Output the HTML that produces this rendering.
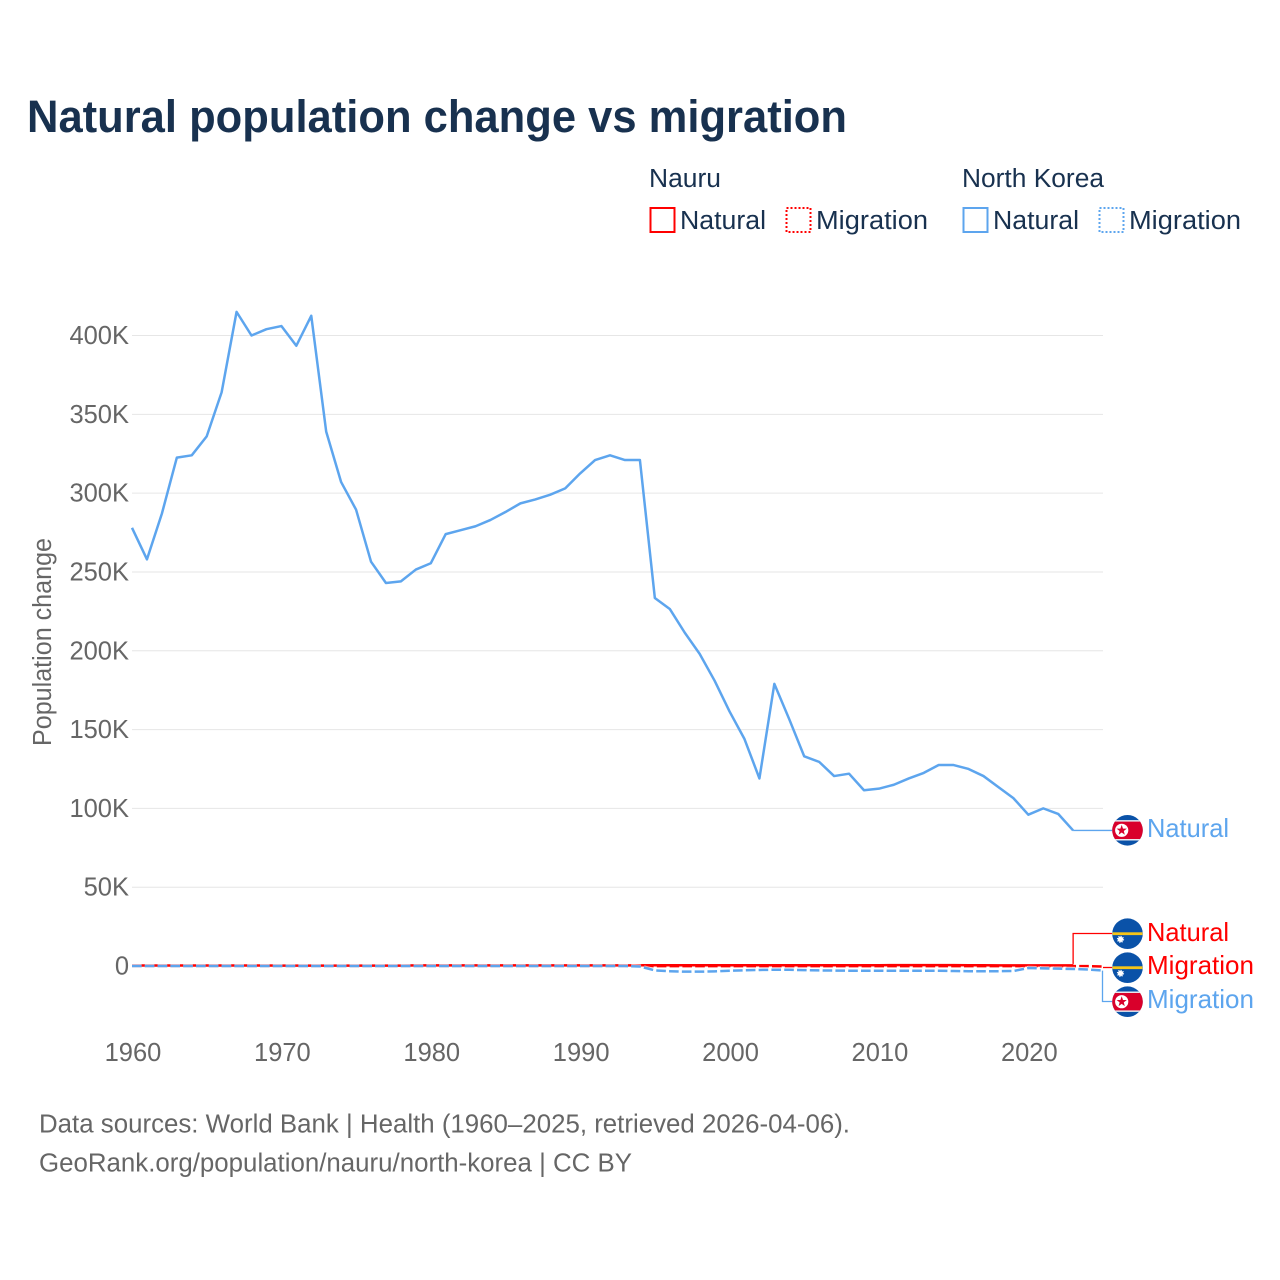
<!DOCTYPE html>
<html lang="en">
<head>
<meta charset="utf-8">
<title>Natural population change vs migration</title>
<style>
html,body{margin:0;padding:0;background:#fff;width:1280px;height:1280px;overflow:hidden}
svg{display:block}
text{font-family:"Liberation Sans",sans-serif}
.tick{font-size:25.5px;fill:#666}
.legend{font-size:25.5px;fill:#18314f}
.src{font-size:25.5px;fill:#666}
.end{font-size:26px}
</style>
</head>
<body>
<svg id="chart" xmlns="http://www.w3.org/2000/svg" width="1280" height="1280" viewBox="0 0 1280 1280">
  <rect width="1280" height="1280" fill="#fff"/>
  <text x="27" y="132" font-size="45" font-weight="700" fill="#18314f" textLength="820" lengthAdjust="spacingAndGlyphs">Natural population change vs migration</text>

  <g>
    <text class="legend" x="649" y="187" textLength="72" lengthAdjust="spacingAndGlyphs">Nauru</text>
    <text class="legend" x="962" y="187" textLength="142" lengthAdjust="spacingAndGlyphs">North Korea</text>
    <g>
      <rect x="650.5" y="208" width="24" height="24" fill="none" stroke="#ff0000" stroke-width="2"/>
      <text class="legend" x="680" y="229" textLength="86" lengthAdjust="spacingAndGlyphs">Natural</text>
    </g>
    <g>
      <rect x="786.5" y="208" width="24" height="24" fill="none" stroke="#ff0000" stroke-width="2" stroke-dasharray="2 2"/>
      <text class="legend" x="816" y="229" textLength="112" lengthAdjust="spacingAndGlyphs">Migration</text>
    </g>
    <g>
      <rect x="963.5" y="208" width="24" height="24" fill="none" stroke="#5da5ee" stroke-width="2"/>
      <text class="legend" x="993" y="229" textLength="86" lengthAdjust="spacingAndGlyphs">Natural</text>
    </g>
    <g>
      <rect x="1099.5" y="208" width="24" height="24" fill="none" stroke="#5da5ee" stroke-width="2" stroke-dasharray="2 2"/>
      <text class="legend" x="1129" y="229" textLength="112" lengthAdjust="spacingAndGlyphs">Migration</text>
    </g>
  </g>

  <text class="tick" transform="translate(51,642) rotate(-90)" text-anchor="middle" textLength="208" lengthAdjust="spacingAndGlyphs">Population change</text>

  <g id="grid"></g>
  <g id="yticks"></g>
  <g id="xticks"></g>
  <g id="connectors"></g>
  <g id="series"></g>

  <g>
    <g transform="translate(1127.5,830.3)">
      <circle r="15.3" fill="#0a52a8"/>
      <clipPath id="c1"><circle r="15.3"/></clipPath>
      <g clip-path="url(#c1)">
        <rect x="-16" y="-10.2" width="32" height="20.4" fill="#e8e8ee"/>
        <rect x="-16" y="-8.7" width="32" height="17.4" fill="#d9002b"/>
      </g>
      <circle cx="-5.8" r="6.6" fill="#fff"/>
      <polygon points="-5.8,-5.4 -4.5,-1.7 -0.7,-1.7 -3.7,0.7 -2.7,4.4 -5.8,2.2 -8.9,4.4 -7.9,0.7 -10.9,-1.7 -7.1,-1.7" fill="#d9002b"/>
    </g>
    <text class="end" x="1147" y="837" fill="#5da5ee" textLength="82" lengthAdjust="spacingAndGlyphs">Natural</text>
  </g>
  <g>
    <g transform="translate(1127.5,933.7)">
      <circle r="15.3" fill="#0a52a8"/>
      <rect x="-15" y="-1.4" width="30" height="2.8" fill="#f5c518"/>
      <circle cx="-7" cy="5.6" r="2.6" fill="#fff" stroke="#fff" stroke-width="2" stroke-dasharray="1 1"/>
    </g>
    <text class="end" x="1147" y="941" fill="#ff0000" textLength="82" lengthAdjust="spacingAndGlyphs">Natural</text>
  </g>
  <g>
    <g transform="translate(1127.5,967.7)">
      <circle r="15.3" fill="#0a52a8"/>
      <rect x="-15" y="-1.4" width="30" height="2.8" fill="#f5c518"/>
      <circle cx="-7" cy="5.6" r="2.6" fill="#fff" stroke="#fff" stroke-width="2" stroke-dasharray="1 1"/>
    </g>
    <text class="end" x="1147" y="974" fill="#ff0000" textLength="107" lengthAdjust="spacingAndGlyphs">Migration</text>
  </g>
  <g>
    <g transform="translate(1127.5,1001.7)">
      <circle r="15.3" fill="#0a52a8"/>
      <clipPath id="c2"><circle r="15.3"/></clipPath>
      <g clip-path="url(#c2)">
        <rect x="-16" y="-10.2" width="32" height="20.4" fill="#e8e8ee"/>
        <rect x="-16" y="-8.7" width="32" height="17.4" fill="#d9002b"/>
      </g>
      <circle cx="-5.8" r="6.6" fill="#fff"/>
      <polygon points="-5.8,-5.4 -4.5,-1.7 -0.7,-1.7 -3.7,0.7 -2.7,4.4 -5.8,2.2 -8.9,4.4 -7.9,0.7 -10.9,-1.7 -7.1,-1.7" fill="#d9002b"/>
    </g>
    <text class="end" x="1147" y="1008" fill="#5da5ee" textLength="107" lengthAdjust="spacingAndGlyphs">Migration</text>
  </g>

  <text class="src" x="39" y="1132.5" textLength="811" lengthAdjust="spacingAndGlyphs">Data sources: World Bank | Health (1960–2025, retrieved 2026-04-06).</text>
  <text class="src" x="39" y="1171.5" textLength="593" lengthAdjust="spacingAndGlyphs">GeoRank.org/population/nauru/north-korea | CC BY</text>
</svg>
<script>
const yearTicks = [1960, 1970, 1980, 1990, 2000, 2010, 2020];
const valueTicks = [0, 50000, 100000, 150000, 200000, 250000, 300000, 350000, 400000];
const valueTickLabels = ["0", "50K", "100K", "150K", "200K", "250K", "300K", "350K", "400K"];
const firstYear = 1960;
const koreaNatural = [278000,258000,287000,322500,324000,336000,364000,415000,400000,404000,406000,393500,412500,339000,307000,289500,256500,243000,244000,251500,255500,274000,276500,279000,283000,288000,293500,296000,299000,303000,312500,321000,324000,321000,321000,233500,226500,211500,198000,181000,161500,144000,119000,179000,156500,133000,129500,120500,122000,111500,112500,115000,119000,122500,127500,127500,125000,120500,113500,106500,96000,100000,96500,86000];
const koreaMigration = [0,0,0,0,0,0,0,0,0,0,0,0,0,0,0,0,0,0,0,0,0,0,0,0,0,0,0,0,0,0,0,0,0,0,-300,-2800,-3300,-3600,-3600,-3400,-3000,-2700,-2500,-2400,-2400,-2600,-2800,-2900,-3000,-3000,-3000,-3000,-3000,-3000,-3000,-3200,-3300,-3300,-3300,-3200,-1300,-1500,-1700,-1900,-2200,-2900];
const nauruNatural = [300,300,310,320,320,330,330,340,350,300,250,200,200,200,210,220,220,230,240,360,370,380,380,390,390,400,410,410,420,420,430,430,430,430,440,450,450,450,450,460,460,460,470,470,470,470,480,480,480,500,510,520,520,520,520,520,510,500,420,400,420,430,430,430];
const nauruMigration = [0,0,0,0,0,0,0,0,0,0,0,0,0,0,0,0,0,0,0,0,0,0,0,0,0,0,0,0,0,0,0,0,0,0,-50,-50,-50,-50,-50,-50,-50,-50,-50,-50,-50,-50,-50,-50,-50,-50,-50,-50,-50,-50,-50,-50,-50,-50,-50,-50,-50,-50,-50,-50,-100,-300];
const gridTop = 132;
const SVGNS = "http://www.w3.org/2000/svg";
function xScale(year) { return gridTop + (year - firstYear) * (1103 - 132) / 65; }
function yScale(value) { return 966 - value * (966 - 335.5) / 400000; }
function linePoints(values) {
  return values.map(function (v, i) { return xScale(firstYear + i).toFixed(2) + "," + yScale(v).toFixed(2); }).join(" ");
}
const gridG = document.getElementById("grid");
const yG = document.getElementById("yticks");
const xG = document.getElementById("xticks");
const seriesG = document.getElementById("series");
const connG = document.getElementById("connectors");

valueTicks.forEach(function (v, i) {
  if (v !== 0) {
    const g = document.createElementNS(SVGNS, "line");
    
    
    g.setAttribute("x1", xScale(1960));
    g.setAttribute("x2", xScale(2025));
    g.setAttribute("y1", yScale(v));
    g.setAttribute("y2", yScale(v));
    g.setAttribute("stroke", "#e6e6e6");
    g.setAttribute("stroke-width", "1");
    gridG.appendChild(g);
  }
  const t = document.createElementNS(SVGNS, "text");
  
  
  t.setAttribute("class", "tick");
  t.setAttribute("x", "129");
  t.setAttribute("y", yScale(v) + 8.5);
  t.setAttribute("text-anchor", "end");
  t.textContent = valueTickLabels[i];
  yG.appendChild(t);
});

yearTicks.forEach(function (yr) {
  const t = document.createElementNS(SVGNS, "text");
  
  
  t.setAttribute("class", "tick");
  t.setAttribute("x", xScale(yr) + 1);
  t.setAttribute("y", "1061");
  t.setAttribute("text-anchor", "middle");
  t.textContent = String(yr);
  xG.appendChild(t);
});

function addConnector(name, d, color) {
  const p = document.createElementNS(SVGNS, "path");
  
  
  p.setAttribute("d", d);
  p.setAttribute("fill", "none");
  p.setAttribute("stroke", color);
  p.setAttribute("stroke-width", "1.3");
  connG.appendChild(p);
}
const lastNatural = firstYear + koreaNatural.length - 1;
const lastMigration = firstYear + koreaMigration.length - 1;
addConnector("connector-north-korea-natural", "M" + xScale(lastNatural) + " " + yScale(koreaNatural[koreaNatural.length - 1]) + "H1112", "#5da5ee");
addConnector("connector-nauru-natural", "M" + xScale(lastNatural) + " " + yScale(nauruNatural[nauruNatural.length - 1]) + "V933.5H1112", "#ff0000");
addConnector("connector-nauru-migration", "M" + xScale(lastMigration) + " 967.5H1112", "#ff0000");
addConnector("connector-north-korea-migration", "M1102.5 " + yScale(koreaMigration[koreaMigration.length - 1]) + "V1001.5H1112", "#5da5ee");

function addLine(name, values, color, dashed) {
  if (dashed) {
    const h = document.createElementNS(SVGNS, "polyline");
    
    
    h.setAttribute("points", linePoints(values));
    h.setAttribute("fill", "none");
    h.setAttribute("stroke", "#fff");
    h.setAttribute("stroke-width", "4.5");
    h.setAttribute("stroke-dasharray", "9.6 3.2");
    h.setAttribute("opacity", "0.6");
    seriesG.appendChild(h);
  }
  const l = document.createElementNS(SVGNS, "polyline");
  
  
  l.setAttribute("points", linePoints(values));
  l.setAttribute("fill", "none");
  l.setAttribute("stroke", color);
  l.setAttribute("stroke-width", "2.5");
  l.setAttribute("stroke-linejoin", "round");
  if (dashed) { l.setAttribute("stroke-dasharray", "9.6 3.2"); }
  seriesG.appendChild(l);
}
addLine("line-nauru-migration", nauruMigration, "#ff0000", true);
addLine("line-nauru-natural", nauruNatural, "#ff0000", false);
addLine("line-north-korea-natural", koreaNatural, "#5da5ee", false);
addLine("line-north-korea-migration", koreaMigration, "#5da5ee", true);
</script>
</body>
</html>
